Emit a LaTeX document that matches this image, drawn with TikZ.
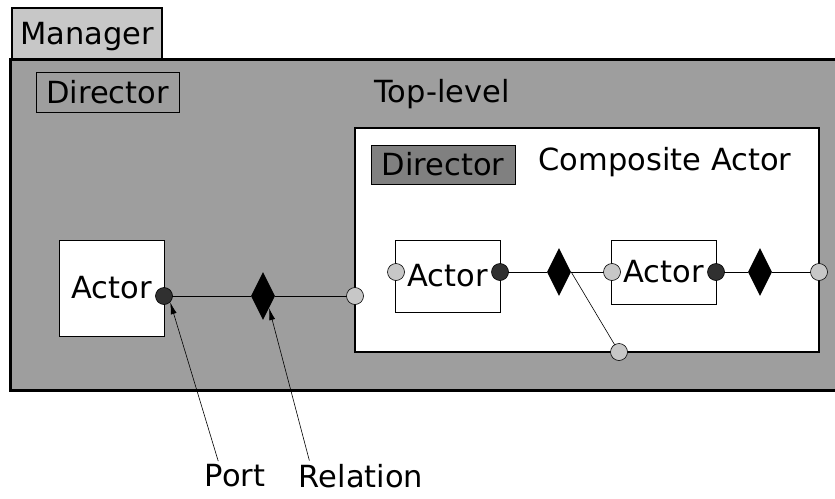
\documentclass[tikz,border=0pt]{standalone}
\usepackage{fontspec}
\setmainfont{DejaVu Sans}
\usetikzlibrary{shapes.geometric, arrows.meta, positioning}

\begin{document}
\begin{tikzpicture}[x=1pt, y=-1pt,
  every node/.style={font=\fontsize{30.5}{35}\selectfont},
  actorbox/.style={draw, fill=white, line width=0.8pt, inner sep=0pt},
  inport/.style={circle, draw, line width=0.6pt, fill=black!22, minimum size=17pt, inner sep=0pt},
  outport/.style={inport, fill=black!81},
  relation/.style={diamond, fill=black, minimum width=24pt, minimum height=48pt, inner sep=0pt}]
\clip (0,0) rectangle (835,498);

% manager tab and the top-level model
\draw [line width=2pt, fill=black!22] (12,8) rectangle (162,60);
\node [anchor=base] (mgr) at (87,44) {Manager};
\fill [black!38] (10,59) rectangle (845,390);
\draw [line width=3pt] (845,59) -- (10,59) -- (10,390) -- (845,390);
\node [draw, line width=0.8pt, minimum width=143pt, minimum height=40pt] (topdir) at (107.5,92) {Director};
\node (toplbl) at (442,94) {Top-level};

% composite actor
\draw [fill=white, line width=1.2pt] (355,128) rectangle (819,352);
\node [draw, line width=0.8pt, fill=black!50, minimum width=144pt, minimum height=39pt] (compdir) at (443,164.5) {Director};
\node (complbl) at (665,162) {Composite Actor};

\node [actorbox, minimum width=105pt, minimum height=96pt] (a0) at (111.5,288) {Actor};
\node [actorbox, minimum width=105pt, minimum height=72pt] (a1) at (447.5,276) {Actor};
\node [actorbox, minimum width=105pt, minimum height=64pt] (a2) at (663.5,272) {Actor};

% relations
\node [relation] (r0) at (263,296) {};
\node [relation] (r1) at (559,272) {};
\node [relation] (r2) at (760,272) {};

\draw [line width=0.8pt] (164,296) -- (r0) -- (355,296);
\draw [line width=0.8pt] (500,272) -- (r1) -- (612,272);
\draw [line width=0.8pt] (716,272) -- (r2) -- (819,272);
\draw [line width=0.6pt] (r1.east) -- (619,352);

% ports
\node [outport] (p0) at (164,296) {};
\node [inport] (cin) at (355,296) {};
\node [inport] (a1in) at (396,272) {};
\node [outport] (a1out) at (500,272) {};
\node [inport] (a2in) at (612,272) {};
\node [outport] (a2out) at (716,272) {};
\node [inport] (cout) at (819,272) {};
\node [inport] (cbot) at (619,352) {};

% callouts
\node (portlbl) at (235,476) {Port};
\node (rellbl) at (361,476) {Relation};
\draw [line width=0.6pt, -{Latex[length=12pt,width=6pt]}] ([xshift=17pt]portlbl.north west) -- (p0.south east);
\draw [line width=0.6pt, -{Latex[length=12pt,width=6pt]}] ([xshift=14pt]rellbl.north west) -- (r0.south east);
\end{tikzpicture}
\end{document}
